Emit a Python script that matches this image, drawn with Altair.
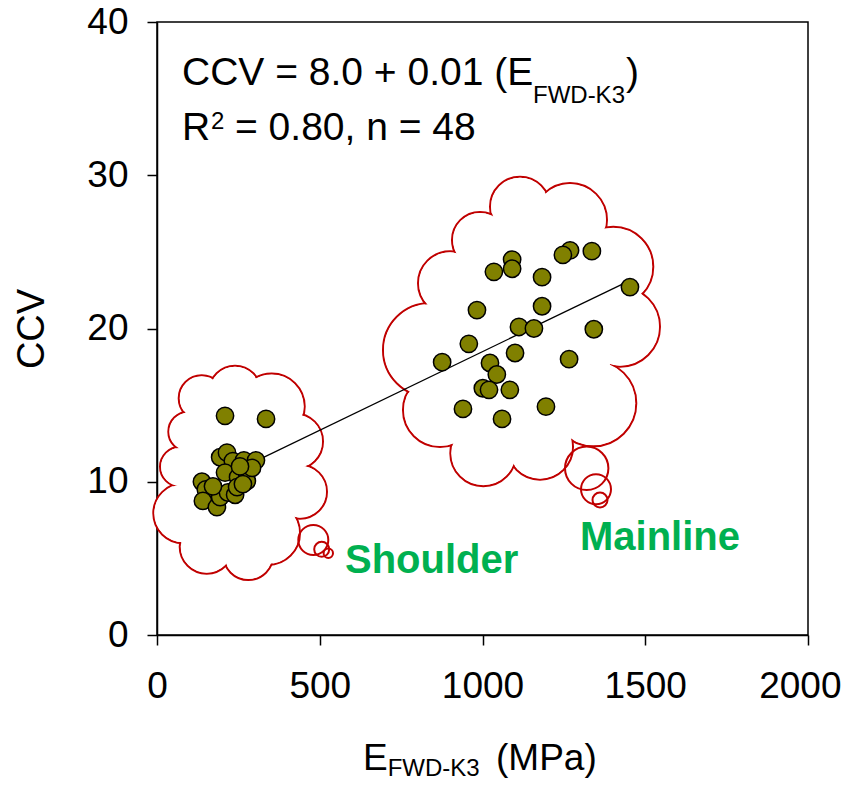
import altair as alt
import pandas as pd

# ---------------- data ----------------
shoulder_E = [209, 335, 194, 215, 233, 267, 304, 209, 249, 276, 276, 138, 150, 141,
              184, 194, 218, 240, 246, 264, 292, 255, 172]
shoulder_CCV = [14.3, 14.1, 11.6, 11.9, 11.35, 11.4, 11.4, 10.6, 10.3, 10.6, 10.05, 10.0,
                9.5, 8.75, 8.35, 9.0, 9.3, 9.15, 9.65, 9.85, 10.9, 11.0, 9.7]
mainline_E = [1269, 1247, 1336, 1091, 1091, 1035, 1183, 1453, 983, 1183, 1112, 1158, 1342,
              958, 1100, 876, 1266, 1023, 1044, 1001, 1020, 1084, 940, 1060, 1195]
mainline_CCV = [25.1, 24.8, 25.05, 24.5, 23.9, 23.7, 23.35, 22.7, 21.2, 21.45, 20.1, 20.0,
                19.95, 19.0, 18.4, 17.8, 18.0, 17.75, 17.0, 16.1, 16.0, 16.0, 14.75, 14.1, 14.9]

fit_E = [138, 1430]
fit_CCV = [9.65, 22.9]

# cloud outlines (union of scallop circles), radii in px
cloud_E = [137.3, 239.6, 352.4, 424, 439.3, 341, 280.5, 152.7, 80.8, 70.7, 96.2,
           1115.2, 1268.8, 1401.8, 1422.4, 1340.4, 1176.7, 1002.5, 869.4, 838.7, 900.2, 992.3]
cloud_CCV = [15.45, 15.88, 14.91, 12.63, 9.35, 6.66, 5.22, 5.76, 7.94, 10.98, 13.27,
             27.95, 27.08, 24.03, 20.12, 15.12, 12.29, 11.86, 14.68, 18.6, 22.95, 25.78]
cloud_r = [23, 26, 33, 28, 27, 32, 25, 27, 30, 20, 20,
           30, 37, 40, 40, 43, 33, 33, 37, 47, 32, 28]
# interior fillers of the clouds
filler_E = [255, 239.6, 270.4, 1130.6, 1161.3, 1099.8]
filler_CCV = [10.77, 7.83, 13.38, 19.58, 24.8, 14.68]
filler_r = [63, 35, 40, 90, 55, 50]
# thought bubbles
bubble_E = [480.2, 506, 526.3, 1320.1, 1348.7, 1361]
bubble_CCV = [6.2, 5.59, 5.33, 10.88, 9.51, 8.81]
bubble_r = [15, 7.5, 4.7, 21.7, 15, 7.5]

# tick values
x_ticks = [0, 500, 1000, 1500, 2000]
y_ticks = [0, 10, 20, 30, 40]

# text annotations
eq_text = ["CCV = 8.0 + 0.01 (E", ")", "R", "= 0.80, n = 48"]
eq_E = [76.8, 1440.9, 76.8, 239.6]
eq_CCV = [35.89, 35.89, 32.3, 32.3]
eq_small_text = ["FWD-K3", "2"]
eq_small_E = [1155.1, 165.9]
eq_small_CCV = [34.71, 33.0]
xt_text = ["E", "(MPa)"]
xt_E = [632.9, 1041.5]
xt_CCV = [-8.81, -8.81]
xt_small_text = ["FWD-K3"]
xt_small_E = [708.7]
xt_small_CCV = [-9.2]
lab_text = ["Shoulder", "Mainline"]
lab_E = [577.6, 1299.5]
lab_CCV = [4.05, 5.55]

FONT = "Liberation Sans"
RED = "#C00000"

# ---------------- frames ----------------
pts = pd.DataFrame({"x": shoulder_E + mainline_E, "y": shoulder_CCV + mainline_CCV})
fit = pd.DataFrame({"x": fit_E, "y": fit_CCV})
cloud = pd.DataFrame({"x": cloud_E, "y": cloud_CCV, "r": cloud_r})
cloud["size"] = (2 * cloud["r"]) ** 2
cover = pd.concat([
    pd.DataFrame({"x": cloud_E, "y": cloud_CCV, "size": [(2 * (r - 1.2)) ** 2 for r in cloud_r]}),
    pd.DataFrame({"x": filler_E, "y": filler_CCV, "size": [(2 * r) ** 2 for r in filler_r]}),
])
bub = pd.DataFrame({"x": bubble_E, "y": bubble_CCV, "size": [(2 * r) ** 2 for r in bubble_r]})

xs = alt.Scale(domain=[0, 2000], nice=False, zero=False)
ys = alt.Scale(domain=[0, 40], nice=False, zero=False)

x_axis = alt.Axis(values=x_ticks, title="", grid=False,
                  labelFontSize=37, labelFont=FONT, labelColor="black", labelPadding=23,
                  tickSize=10, labelFlush=False, labelOverlap=False, format="d",
                  labelAlign={"condition": {"test": "datum.value == 2000", "value": "right"},
                              "value": "center"},
                  labelOffset={"condition": {"test": "datum.value == 2000", "value": 33},
                               "value": 0})
y_axis = alt.Axis(values=y_ticks, title="CCV", grid=False,
                  labelFontSize=37, labelFont=FONT, labelColor="black", labelPadding=19,
                  tickSize=10, labelOverlap=False, format="d",
                  titleFont=FONT, titleFontSize=38, titleFontWeight="normal", titleColor="black",
                  titleAngle=270, titleX=-114, titleY=306.5, titleAlign="center",
                  titleBaseline="alphabetic")

X = alt.X("x:Q", scale=xs, axis=x_axis)
Y = alt.Y("y:Q", scale=ys, axis=y_axis)

clouds = alt.Chart(cloud).mark_point(shape="circle", filled=True, fill="white", stroke=RED,
                                     strokeWidth=2, opacity=1).encode(
    x=X, y=Y, size=alt.Size("size:Q", scale=None))
covers = alt.Chart(cover).mark_point(shape="circle", filled=True, fill="white",
                                     strokeWidth=0, opacity=1).encode(
    x=X, y=Y, size=alt.Size("size:Q", scale=None))
bubbles = alt.Chart(bub).mark_point(shape="circle", filled=False, stroke=RED,
                                    strokeWidth=2, opacity=1).encode(
    x=X, y=Y, size=alt.Size("size:Q", scale=None))
line = alt.Chart(fit).mark_line(color="black", strokeWidth=1.3).encode(x=X, y=Y)
points = alt.Chart(pts).mark_point(shape="circle", filled=True, fill="#808000", stroke="black",
                                   strokeWidth=1.5, size=300, opacity=1).encode(x=X, y=Y)


def texts(t, e, c, size, color="black", weight="normal"):
    df = pd.DataFrame({"x": e, "y": c, "t": t})
    return alt.Chart(df).mark_text(font=FONT, fontSize=size, color=color, fontWeight=weight,
                                   align="left", baseline="alphabetic").encode(
        x=X, y=Y, text="t:N")


layers = [
    clouds, covers, bubbles, line, points,
    texts(eq_text, eq_E, eq_CCV, 39),
    texts(eq_small_text, eq_small_E, eq_small_CCV, 24),
    texts(xt_text, xt_E, xt_CCV, 37),
    texts(xt_small_text, xt_small_E, xt_small_CCV, 24),
    texts(lab_text, lab_E, lab_CCV, 40, color="#00B050", weight="bold"),
]

chart = alt.layer(*layers).properties(
    width=651, height=613,
    autosize=alt.AutoSizeParams(type="none"),
    padding={"left": 149, "top": 14, "right": 34, "bottom": 143},
).configure_view(stroke="black", strokeWidth=1.5).configure_axis(
    domainColor="black", domainWidth=1.5, tickColor="black", tickWidth=1.5
)

chart.save("out.html", embed_options={"renderer": "svg", "actions": False})
